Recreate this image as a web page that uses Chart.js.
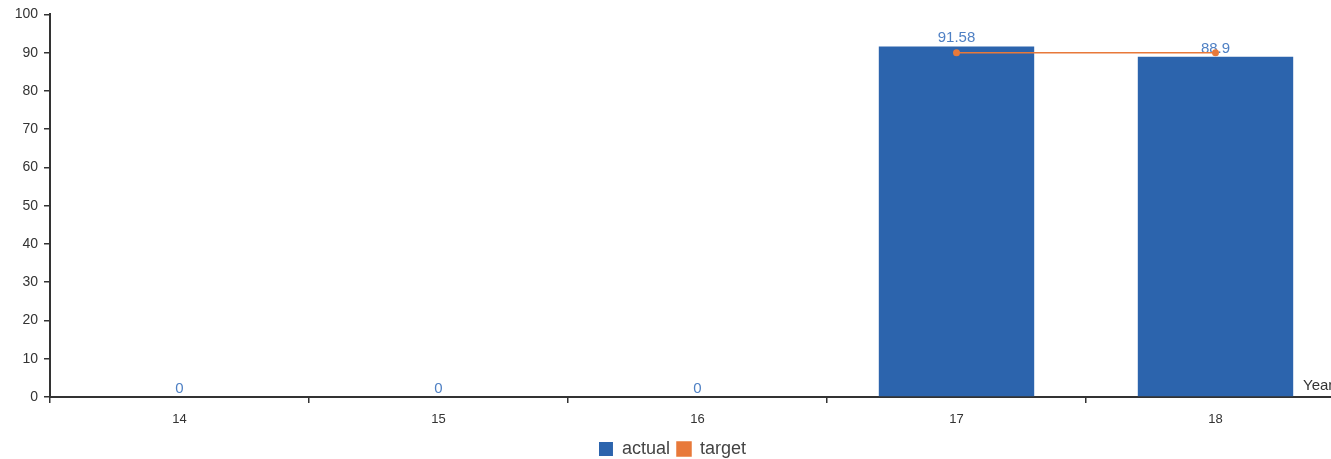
<!DOCTYPE html>
<html>
<head>
<meta charset="utf-8">
<script src="https://cdn.jsdelivr.net/npm/chart.js@4"></script>
<style>
  html, body { margin: 0; padding: 0; background: #fff; overflow: hidden; width: 1331px; height: 459px; }
  canvas { display: block; }
</style>
</head>
<body>
<canvas id="myChart" width="1350" height="459"></canvas>
<script>
// data
var years = ['14', '15', '16', '17', '18'];
var actual = [0, 0, 0, 91.58, 88.9];
var target = [null, null, null, 90, 90];
var axisName = 'Year';

var FONT = 'Liberation Sans, Arial, sans-serif';
var blue = '#2c64ad';
var orange = '#e8793a';

// value labels above the bars, drawn before the line so the points sit on top
var barLabels = {
  id: 'barLabels',
  afterDatasetDraw: function (chart, args) {
    if (args.index !== 1) return;
    var c = chart.ctx;
    var meta = chart.getDatasetMeta(1);
    c.save();
    c.font = '15px ' + FONT;
    c.fillStyle = '#4f80c4';
    c.textAlign = 'center';
    c.textBaseline = 'bottom';
    meta.data.forEach(function (bar, i) {
      c.fillText(String(actual[i]), bar.x, bar.y - 1);
    });
    c.restore();
  }
};

// axis name at the end of the x axis
var axisTitle = {
  id: 'axisTitle',
  afterDraw: function (chart) {
    var c = chart.ctx;
    var a = chart.chartArea;
    c.save();
    c.font = '15px ' + FONT;
    c.fillStyle = '#333';
    c.textAlign = 'left';
    c.textBaseline = 'bottom';
    c.fillText(axisName, a.right - 42, a.bottom - 4);
    c.restore();
  }
};

new Chart(document.getElementById('myChart'), {
  data: {
    labels: years,
    datasets: [{
      type: 'line',
      label: 'target',
      data: target,
      borderColor: orange,
      backgroundColor: orange,
      borderWidth: 1.5,
      pointRadius: 3.5,
      pointBackgroundColor: orange,
      pointBorderWidth: 0,
      order: 0
    }, {
      type: 'bar',
      label: 'actual',
      data: actual,
      backgroundColor: blue,
      categoryPercentage: 1,
      barPercentage: 0.6,
      order: 1
    }]
  },
  options: {
    responsive: false,
    animation: false,
    layout: { padding: { top: 14, right: 5, left: 0, bottom: -9 } },
    plugins: {
      tooltip: { enabled: false },
      legend: {
        position: 'bottom',
        reverse: true,
        labels: {
          font: { family: FONT, size: 18 },
          color: '#444',
          boxWidth: 14,
          boxHeight: 14,
          padding: 7
        }
      }
    },
    scales: {
      x: {
        offset: true,
        grid: { offset: true, drawOnChartArea: false, drawTicks: true, tickLength: 6, color: '#333', lineWidth: 1.5 },
        border: { color: '#333', width: 2 },
        ticks: { font: { family: FONT, size: 13 }, color: '#333', padding: 9 },
        afterFit: function (s) { s.height = 36; }
      },
      y: {
        min: 0,
        max: 100,
        grid: { drawOnChartArea: false, drawTicks: true, tickLength: 6, color: '#333', lineWidth: 1.5 },
        border: { color: '#333', width: 2 },
        ticks: { stepSize: 10, font: { family: FONT, size: 14 }, color: '#333', padding: 6 },
        afterFit: function (s) { s.width = 50; }
      }
    }
  },
  plugins: [barLabels, axisTitle]
});
</script>
</body>
</html>
